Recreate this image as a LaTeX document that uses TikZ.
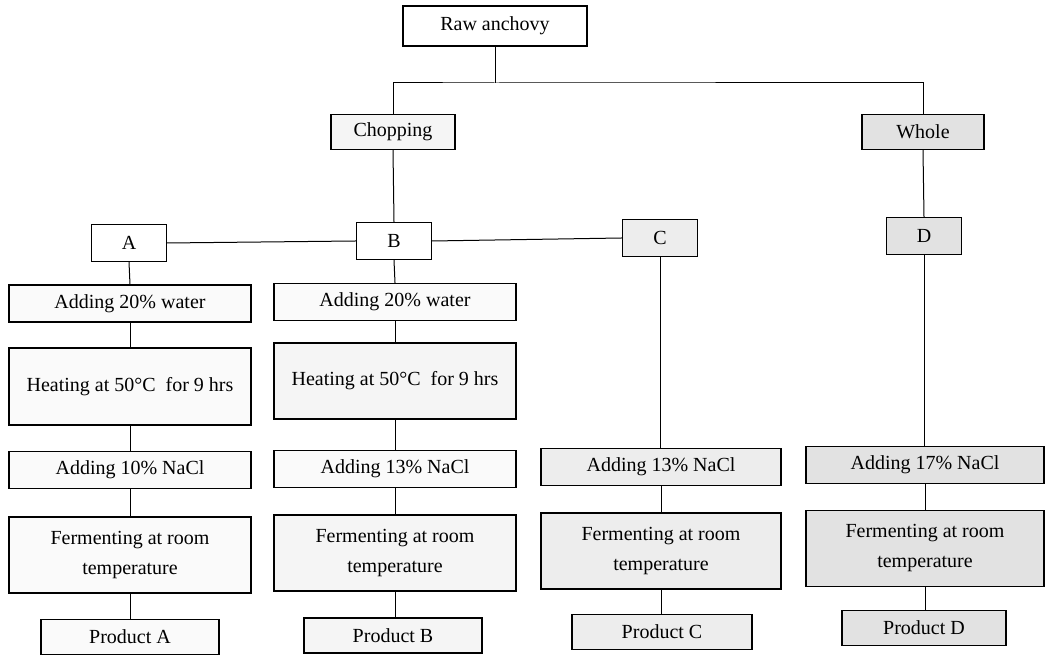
\documentclass[tikz,border=0pt]{standalone}
\usepackage{fontspec}
\setmainfont{Liberation Serif}
\usepackage{tikz}
\usepackage{xcolor}
\definecolor{dots-faint}{gray}{0.98}
\definecolor{dots-light}{gray}{0.96}
\definecolor{dots-mid}{gray}{0.93}
\definecolor{dots-dense}{gray}{0.885}
\tikzset{
    flow-box/.style = {draw, line width=0.7pt, rectangle, align=center, inner sep=0pt, minimum height=18.5pt, font=\fontsize{10}{15}\selectfont},
    wide-box/.style = {flow-box, minimum width=121pt},
    tall-box/.style = {wide-box, minimum height=38pt},
    product-box/.style = {flow-box, minimum width=89pt, minimum height=17.5pt},
    letter-box/.style = {flow-box, minimum width=37.5pt},
    flow-line/.style = {line width=0.5pt},
}

\begin{document}
\begin{tikzpicture}[x=0.5pt, y=-0.5pt]
\useasboundingbox (0,0) rectangle (1045,656);
\node [flow-box, minimum width=92pt, minimum height=20pt, fill=white] (raw) at (495,26) {Raw anchovy};
\coordinate (split) at (495,83);
\node [flow-box, minimum width=62pt, minimum height=17.5pt, fill=dots-light] (chop) at (393,132) {Chopping};
\node [flow-box, minimum width=61pt, minimum height=17.5pt, fill=dots-dense] (whole) at (923,132) {Whole};

\node [letter-box, fill=white] (A) at (129,243) {A};
\node [letter-box, fill=white] (B) at (394,241) {B};
\node [letter-box, fill=dots-mid] (C) at (660,238) {C};
\node [letter-box, fill=dots-dense] (D) at (924,236) {D};

\node [wide-box, fill=dots-faint] (waterA) at (130,303.5) {Adding 20\% water};
\node [tall-box, minimum height=38.5pt, fill=dots-faint] (heatA) at (130,386.5) {Heating at 50°C\ \ for 9 hrs};
\node [wide-box, fill=dots-faint] (saltA) at (130,470) {Adding 10\% NaCl};
\node [tall-box, fill=dots-faint] (fermA) at (130,555) {Fermenting at room\\temperature};
\node [product-box, fill=dots-faint] (prodA) at (130,637) {Product A};

\node [wide-box, fill=dots-faint] (waterB) at (395,302) {Adding 20\% water};
\node [tall-box, fill=dots-light] (heatB) at (395,381) {Heating at 50°C\ \ for 9 hrs};
\node [wide-box, fill=dots-faint] (saltB) at (395,469) {Adding 13\% NaCl};
\node [tall-box, fill=dots-light] (fermB) at (395,553) {Fermenting at room\\temperature};
\node [product-box, fill=dots-light] (prodB) at (393,635.5) {Product B};

\node [wide-box, minimum width=120pt, fill=dots-mid] (saltC) at (661,467) {Adding 13\% NaCl};
\node [tall-box, minimum width=120pt, fill=dots-mid] (fermC) at (661,551) {Fermenting at room\\temperature};
\node [product-box, minimum width=90pt, fill=dots-mid] (prodC) at (662,632) {Product C};

\node [wide-box, minimum width=119pt, fill=dots-dense] (saltD) at (925,465) {Adding 17\% NaCl};
\node [tall-box, minimum width=119pt, fill=dots-dense] (fermD) at (925,548.5) {Fermenting at room\\temperature};
\node [product-box, minimum width=82pt, fill=dots-dense] (prodD) at (924,628) {Product D};

\draw [flow-line] (raw.south) -- (split);
\draw [flow-line] (chop.north) |- (split) -| (whole.north);
\draw [flow-line] (chop.south) -- (B.north);
\draw [flow-line] (whole.south) -- (D.north);
\draw [flow-line] (A.east) -- (B.west);
\draw [flow-line] (B.east) -- (C.west);
\draw [flow-line] (A.south) -- (waterA.north);
\draw [flow-line] (waterA.south) -- (heatA.north);
\draw [flow-line] (heatA.south) -- (saltA.north);
\draw [flow-line] (saltA.south) -- (fermA.north);
\draw [flow-line] (fermA.south) -- (prodA.north);
\draw [flow-line] (B.south) -- (waterB.north);
\draw [flow-line] (waterB.south) -- (heatB.north);
\draw [flow-line] (heatB.south) -- (saltB.north);
\draw [flow-line] (saltB.south) -- (fermB.north);
\draw [flow-line] (fermB.south) -- (fermB.south |- prodB.north);
\draw [flow-line] (C.south) -- (C.south |- saltC.north);
\draw [flow-line] (saltC.south) -- (fermC.north);
\draw [flow-line] (fermC.south) -- (fermC.south |- prodC.north);
\draw [flow-line] (D.south) -- (D.south |- saltD.north);
\draw [flow-line] (saltD.south) -- (fermD.north);
\draw [flow-line] (fermD.south) -- (fermD.south |- prodD.north);
\end{tikzpicture}
\end{document}
